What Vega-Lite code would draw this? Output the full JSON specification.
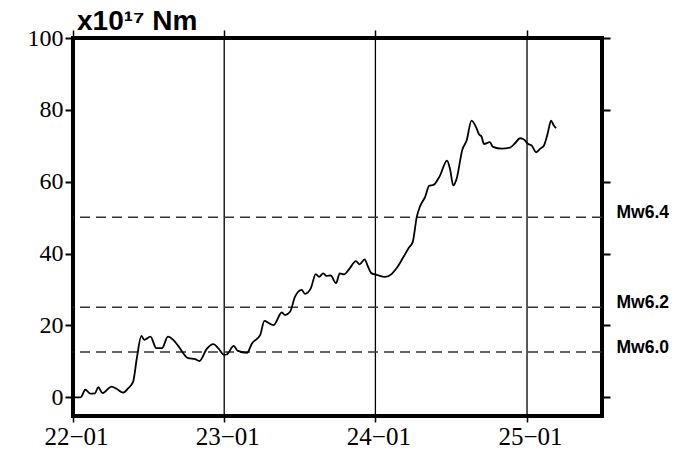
{
  "$schema": "https://vega.github.io/schema/vega-lite/v6.json",
  "width": 529,
  "height": 378,
  "autosize": {"type": "none"},
  "padding": {"left": 73, "top": 38, "right": 83, "bottom": 33},
  "background": "white",
  "config": {
    "view": {"stroke": "black", "strokeWidth": 4},
    "axis": {"domain": false, "grid": false, "tickColor": "black", "labelColor": "black", "title": null}
  },
  "title": {
    "text": "x10¹⁷ Nm",
    "anchor": "start",
    "frame": "group",
    "font": "Liberation Sans",
    "fontSize": 28,
    "fontWeight": "bold",
    "color": "black",
    "baseline": "bottom",
    "offset": 0,
    "dx": 4,
    "dy": 40
  },
  "datasets": {
    "moment": [
      {"date": "2022-01-01", "m0": 0},
      {"date": "2022-01-19", "m0": 0},
      {"date": "2022-01-31", "m0": 2.1},
      {"date": "2022-02-12", "m0": 1.0},
      {"date": "2022-02-23", "m0": 1.1},
      {"date": "2022-03-03", "m0": 2.8},
      {"date": "2022-03-13", "m0": 1.2},
      {"date": "2022-04-04", "m0": 3.0},
      {"date": "2022-04-16", "m0": 2.4},
      {"date": "2022-05-02", "m0": 1.3},
      {"date": "2022-05-14", "m0": 2.5},
      {"date": "2022-05-26", "m0": 4.3},
      {"date": "2022-06-04", "m0": 10.8},
      {"date": "2022-06-15", "m0": 17.1},
      {"date": "2022-06-22", "m0": 16.0},
      {"date": "2022-07-07", "m0": 16.9},
      {"date": "2022-07-21", "m0": 13.7},
      {"date": "2022-08-04", "m0": 13.7},
      {"date": "2022-08-18", "m0": 16.9},
      {"date": "2022-08-31", "m0": 16.0},
      {"date": "2022-09-12", "m0": 14.3},
      {"date": "2022-10-06", "m0": 10.9},
      {"date": "2022-10-23", "m0": 10.6},
      {"date": "2022-11-02", "m0": 10.1},
      {"date": "2022-11-20", "m0": 13.5},
      {"date": "2022-12-06", "m0": 14.8},
      {"date": "2022-12-18", "m0": 13.6},
      {"date": "2023-01-01", "m0": 11.8},
      {"date": "2023-01-08", "m0": 12.0},
      {"date": "2023-01-24", "m0": 14.3},
      {"date": "2023-02-02", "m0": 13.0},
      {"date": "2023-02-25", "m0": 12.4},
      {"date": "2023-03-09", "m0": 15.0},
      {"date": "2023-03-29", "m0": 17.4},
      {"date": "2023-04-08", "m0": 21.3},
      {"date": "2023-04-18", "m0": 20.7},
      {"date": "2023-04-30", "m0": 20.1},
      {"date": "2023-05-20", "m0": 23.6},
      {"date": "2023-05-28", "m0": 22.9},
      {"date": "2023-06-09", "m0": 23.8},
      {"date": "2023-06-21", "m0": 28.0},
      {"date": "2023-07-07", "m0": 29.9},
      {"date": "2023-07-15", "m0": 28.8},
      {"date": "2023-07-29", "m0": 30.3},
      {"date": "2023-08-10", "m0": 34.3},
      {"date": "2023-08-18", "m0": 33.5},
      {"date": "2023-08-28", "m0": 34.5},
      {"date": "2023-09-05", "m0": 33.8},
      {"date": "2023-09-15", "m0": 33.9},
      {"date": "2023-09-28", "m0": 31.8},
      {"date": "2023-10-07", "m0": 34.5},
      {"date": "2023-10-17", "m0": 34.2},
      {"date": "2023-10-31", "m0": 35.9},
      {"date": "2023-11-15", "m0": 37.9},
      {"date": "2023-11-24", "m0": 37.0},
      {"date": "2023-12-06", "m0": 38.4},
      {"date": "2023-12-14", "m0": 36.4},
      {"date": "2023-12-23", "m0": 34.5},
      {"date": "2024-01-04", "m0": 34.1},
      {"date": "2024-01-24", "m0": 33.5},
      {"date": "2024-02-09", "m0": 34.3},
      {"date": "2024-02-21", "m0": 35.9},
      {"date": "2024-03-08", "m0": 38.9},
      {"date": "2024-03-21", "m0": 41.5},
      {"date": "2024-03-31", "m0": 43.2},
      {"date": "2024-04-10", "m0": 50.3},
      {"date": "2024-04-18", "m0": 53.2},
      {"date": "2024-04-30", "m0": 55.8},
      {"date": "2024-05-10", "m0": 58.9},
      {"date": "2024-05-20", "m0": 59.1},
      {"date": "2024-06-04", "m0": 61.5},
      {"date": "2024-06-22", "m0": 65.9},
      {"date": "2024-06-29", "m0": 63.6},
      {"date": "2024-07-07", "m0": 59.0},
      {"date": "2024-07-15", "m0": 60.8},
      {"date": "2024-07-29", "m0": 69.0},
      {"date": "2024-08-08", "m0": 71.4},
      {"date": "2024-08-20", "m0": 77.0},
      {"date": "2024-09-01", "m0": 74.9},
      {"date": "2024-09-07", "m0": 73.2},
      {"date": "2024-09-13", "m0": 72.6},
      {"date": "2024-09-19", "m0": 70.5},
      {"date": "2024-10-03", "m0": 71.0},
      {"date": "2024-10-11", "m0": 69.7},
      {"date": "2024-11-01", "m0": 69.2},
      {"date": "2024-11-21", "m0": 69.5},
      {"date": "2024-12-03", "m0": 70.7},
      {"date": "2024-12-15", "m0": 72.1},
      {"date": "2024-12-23", "m0": 71.9},
      {"date": "2025-01-04", "m0": 70.5},
      {"date": "2025-01-12", "m0": 70.1},
      {"date": "2025-01-23", "m0": 68.2},
      {"date": "2025-02-02", "m0": 69.2},
      {"date": "2025-02-11", "m0": 70.1},
      {"date": "2025-02-20", "m0": 73.5},
      {"date": "2025-02-28", "m0": 77.0},
      {"date": "2025-03-06", "m0": 75.8},
      {"date": "2025-03-12", "m0": 74.9}
    ],
    "mw": [
      {"level": 12.6, "label": "Mw6.0"},
      {"level": 25.1, "label": "Mw6.2"},
      {"level": 50.1, "label": "Mw6.4"}
    ],
    "years": [
      {"date": "2022-01-01"},
      {"date": "2023-01-01"},
      {"date": "2024-01-01"},
      {"date": "2025-01-01"}
    ]
  },
  "layer": [
    {
      "data": {"name": "years"},
      "mark": {"type": "rule", "stroke": "black", "strokeWidth": 1.3},
      "encoding": {
        "x": {
          "field": "date",
          "type": "temporal",
          "scale": {"type": "utc", "domain": [{"year": 2022, "month": 1, "date": 1, "utc": true}, {"year": 2025, "month": 7, "date": 1, "utc": true}]},
          "axis": {
            "orient": "top",
            "values": [{"year": 2022, "month": 1, "date": 1, "utc": true}, {"year": 2023, "month": 1, "date": 1, "utc": true}, {"year": 2024, "month": 1, "date": 1, "utc": true}, {"year": 2025, "month": 1, "date": 1, "utc": true}],
            "labels": false,
            "tickSize": 8,
            "tickWidth": 1.5
          }
        }
      }
    },
    {
      "data": {"name": "mw"},
      "mark": {"type": "rule", "stroke": "#333333", "strokeWidth": 1.5, "strokeDash": [10, 6]},
      "encoding": {
        "y": {
          "field": "level",
          "type": "quantitative",
          "scale": {"domain": [-5.2, 100], "nice": false, "zero": false},
          "axis": {
            "orient": "right",
            "values": [0, 12.6, 20, 25.1, 40, 50.1, 60, 80, 100],
            "tickSize": 8,
            "tickWidth": 2,
            "tickOpacity": {"condition": {"test": "datum.value == 12.6 || datum.value == 25.1 || datum.value == 50.1", "value": 0}, "value": 1},
            "labelExpr": "datum.value == 12.6 ? 'Mw6.0' : datum.value == 25.1 ? 'Mw6.2' : datum.value == 50.1 ? 'Mw6.4' : ''",
            "labelFont": "Liberation Sans",
            "labelFontWeight": "bold",
            "labelFontSize": 17.5,
            "labelBaseline": "alphabetic",
            "labelPadding": 6,
            "labelOverlap": false,
            "labelFlush": false
          }
        }
      }
    },
    {
      "data": {"name": "moment"},
      "mark": {"type": "line", "stroke": "black", "strokeWidth": 1.8, "interpolate": "monotone"},
      "encoding": {
        "x": {
          "field": "date",
          "type": "temporal",
          "scale": {"type": "utc", "domain": [{"year": 2022, "month": 1, "date": 1, "utc": true}, {"year": 2025, "month": 7, "date": 1, "utc": true}]},
          "axis": {
            "orient": "bottom",
            "values": [{"year": 2022, "month": 1, "date": 1, "utc": true}, {"year": 2023, "month": 1, "date": 1, "utc": true}, {"year": 2024, "month": 1, "date": 1, "utc": true}, {"year": 2025, "month": 1, "date": 1, "utc": true}],
            "labelExpr": "utcFormat(datum.value, '%y−%m')",
            "labelFont": "Liberation Serif",
            "labelFontSize": 25,
            "labelPadding": 2,
            "labelOffset": 3,
            "labelFlush": false,
            "labelOverlap": false,
            "tickSize": 6,
            "tickWidth": 1.5
          }
        },
        "y": {
          "field": "m0",
          "type": "quantitative",
          "scale": {"domain": [-5.2, 100], "nice": false, "zero": false},
          "axis": {
            "orient": "left",
            "values": [0, 20, 40, 60, 80, 100],
            "labelFont": "Liberation Serif",
            "labelFontSize": 24,
            "labelPadding": 2,
            "labelFlush": false,
            "tickSize": 8,
            "tickWidth": 2
          }
        }
      }
    }
  ],
  "resolve": {"axis": {"x": "independent", "y": "independent"}}
}
